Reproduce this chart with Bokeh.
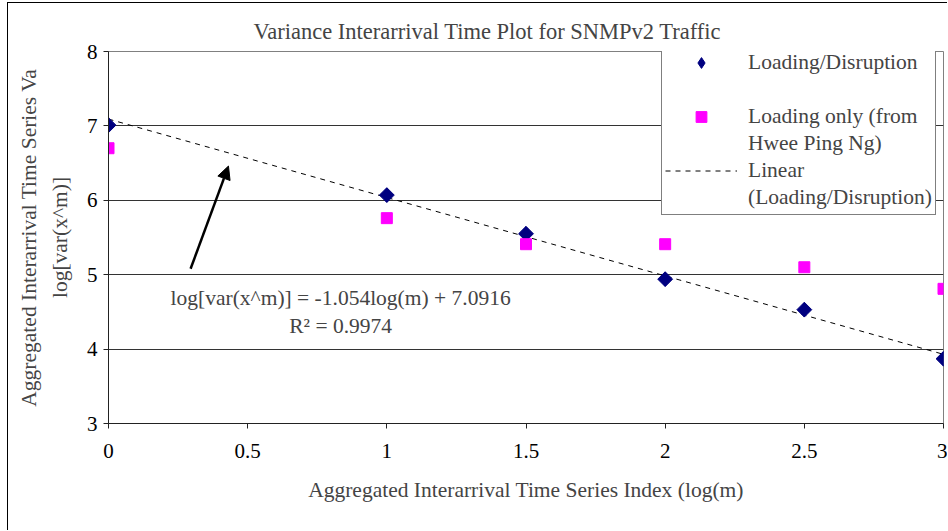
import numpy as np
from bokeh.plotting import figure
from bokeh.models import Arrow, NormalHead, Label, Legend, LegendItem, FixedTicker
from bokeh.embed import file_html
from bokeh.resources import INLINE

# ---- data ----
log_m = [0, 1, 1.5, 2, 2.5, 3]
loading_disruption = [7.01, 6.07, 5.55, 4.94, 4.53, 3.87]
loading_only_x = [0, 1, 1.5, 2, 2.5, 3]
loading_only = [6.70, 5.76, 5.41, 5.41, 5.10, 4.81]
trend_slope = -1.054
trend_intercept = 7.0916
trend_r2 = 0.9974
trend_x = [0, 3]
x_ticks = [0, 0.5, 1, 1.5, 2, 2.5, 3]
x_tick_labels = ["0", "0.5", "1", "1.5", "2", "2.5", "3"]
y_ticks = [3, 4, 5, 6, 7, 8]
arrow_start = [0.295, 5.08]
arrow_end = [0.431, 6.46]

title_text = "Variance Interarrival Time Plot for SNMPv2 Traffic"
x_label = "Aggregated Interarrival Time Series Index (log(m)"
y_label = "Aggregated Interarrival Time Series Va\nlog[var(x^m)]"
legend_lines = [("Loading/Disruption", "ld"), (" ", None),
                ("Loading only (from", "lo"), ("Hwee Ping Ng)", None),
                ("Linear", "lin"), ("(Loading/Disruption)", None)]

FONT = "Liberation Serif"

p = figure(width=940, height=528, x_range=(0, 3), y_range=(3, 8),
           output_backend="svg", toolbar_location=None,
           min_border_left=100, min_border_right=5, min_border_top=48, min_border_bottom=108)
p.styles = {"border-left": "1px solid black", "border-top": "1px solid black",
            "margin-left": "7px", "margin-top": "2px"}
p.background_fill_color = "white"
p.border_fill_color = "white"
p.outline_line_color = "#808080"
p.outline_line_width = 1

p.title.text = title_text
p.title.text_font = FONT
p.title.text_font_size = "22.5px"
p.title.text_font_style = "normal"
p.title.align = "left"
p.title.offset = 145
p.title.standoff = 15

p.xgrid.visible = False
p.ygrid.ticker = FixedTicker(ticks=y_ticks)
p.ygrid.grid_line_color = "#333333"
p.ygrid.grid_line_width = 1

p.xaxis.ticker = FixedTicker(ticks=x_ticks)
p.xaxis.major_label_overrides = {t: l for t, l in zip(x_ticks, x_tick_labels)}
p.yaxis.ticker = FixedTicker(ticks=y_ticks)
for ax in (p.xaxis[0], p.yaxis[0]):
    ax.axis_line_color = "#222222"
    ax.major_tick_line_color = "#222222"
    ax.major_tick_out = 5
    ax.major_tick_in = 0
    ax.minor_tick_line_color = None
    ax.major_label_text_font = FONT
    ax.major_label_text_font_size = "21px"
    ax.major_label_text_color = "black"
    ax.axis_label_text_font = FONT
    ax.axis_label_text_font_size = "21.5px"
    ax.axis_label_text_font_style = "normal"
p.xaxis.major_label_standoff = 15
p.yaxis.major_label_standoff = 6
p.xaxis.axis_label = x_label
p.xaxis.axis_label_standoff = 17
p.yaxis.axis_label = y_label
p.yaxis.axis_label_standoff = 12
p.yaxis.axis_label_text_line_height = 1.3

# trend line
trend_y = [trend_slope * x + trend_intercept for x in trend_x]
r_lin = p.line(trend_x, trend_y, line_color="black", line_dash="5 5", line_width=1)
# diamond key for the legend (drawn under the rotated squares, which cover it fully)
r_ld_key = p.scatter(log_m, loading_disruption, marker="diamond", size=14,
                     fill_color="#000080", line_color="#000080")
r_ld = p.scatter(log_m, loading_disruption, marker="square", angle=np.pi / 4, size=10.5,
                 fill_color="#000080", line_color="#000080")
r_lo = p.scatter(loading_only_x, loading_only, marker="square", size=11,
                 fill_color="#FF00FF", line_color="#FF00FF")
r_blank = p.scatter([], [], fill_alpha=0, line_alpha=0)

renderer_map = {"ld": r_ld_key, "lo": r_lo, "lin": r_lin, None: r_blank}
legend = Legend(items=[LegendItem(label=t, renderers=[renderer_map[k]]) for t, k in legend_lines],
                location=(553, 208))
legend.label_text_font = FONT
legend.label_text_font_size = "21.5px"
legend.label_text_line_height = 1.0
legend.label_height = 27
legend.glyph_height = 27
legend.glyph_width = 72
legend.label_standoff = 11
legend.padding = 3
legend.spacing = 0
legend.margin = 0
legend.border_line_color = "black"
legend.border_line_width = 1
legend.background_fill_color = "white"
legend.background_fill_alpha = 1
p.add_layout(legend)

# arrow
p.add_layout(Arrow(x_start=arrow_start[0], y_start=arrow_start[1], x_end=arrow_end[0], y_end=arrow_end[1],
                   line_color="black", line_width=2.5,
                   end=NormalHead(size=13, fill_color="black", line_color="black")))

# equation
eq_text = f"log[var(x^m)] = {trend_slope}log(m) + {trend_intercept}\nR\u00b2 = {trend_r2}"
p.add_layout(Label(x=0.834, y=4.5, text=eq_text, text_font=FONT, text_font_size="21.5px",
                   text_align="center", text_baseline="middle", text_line_height=1.2))

open("out.html", "w").write(file_html(p, INLINE))
